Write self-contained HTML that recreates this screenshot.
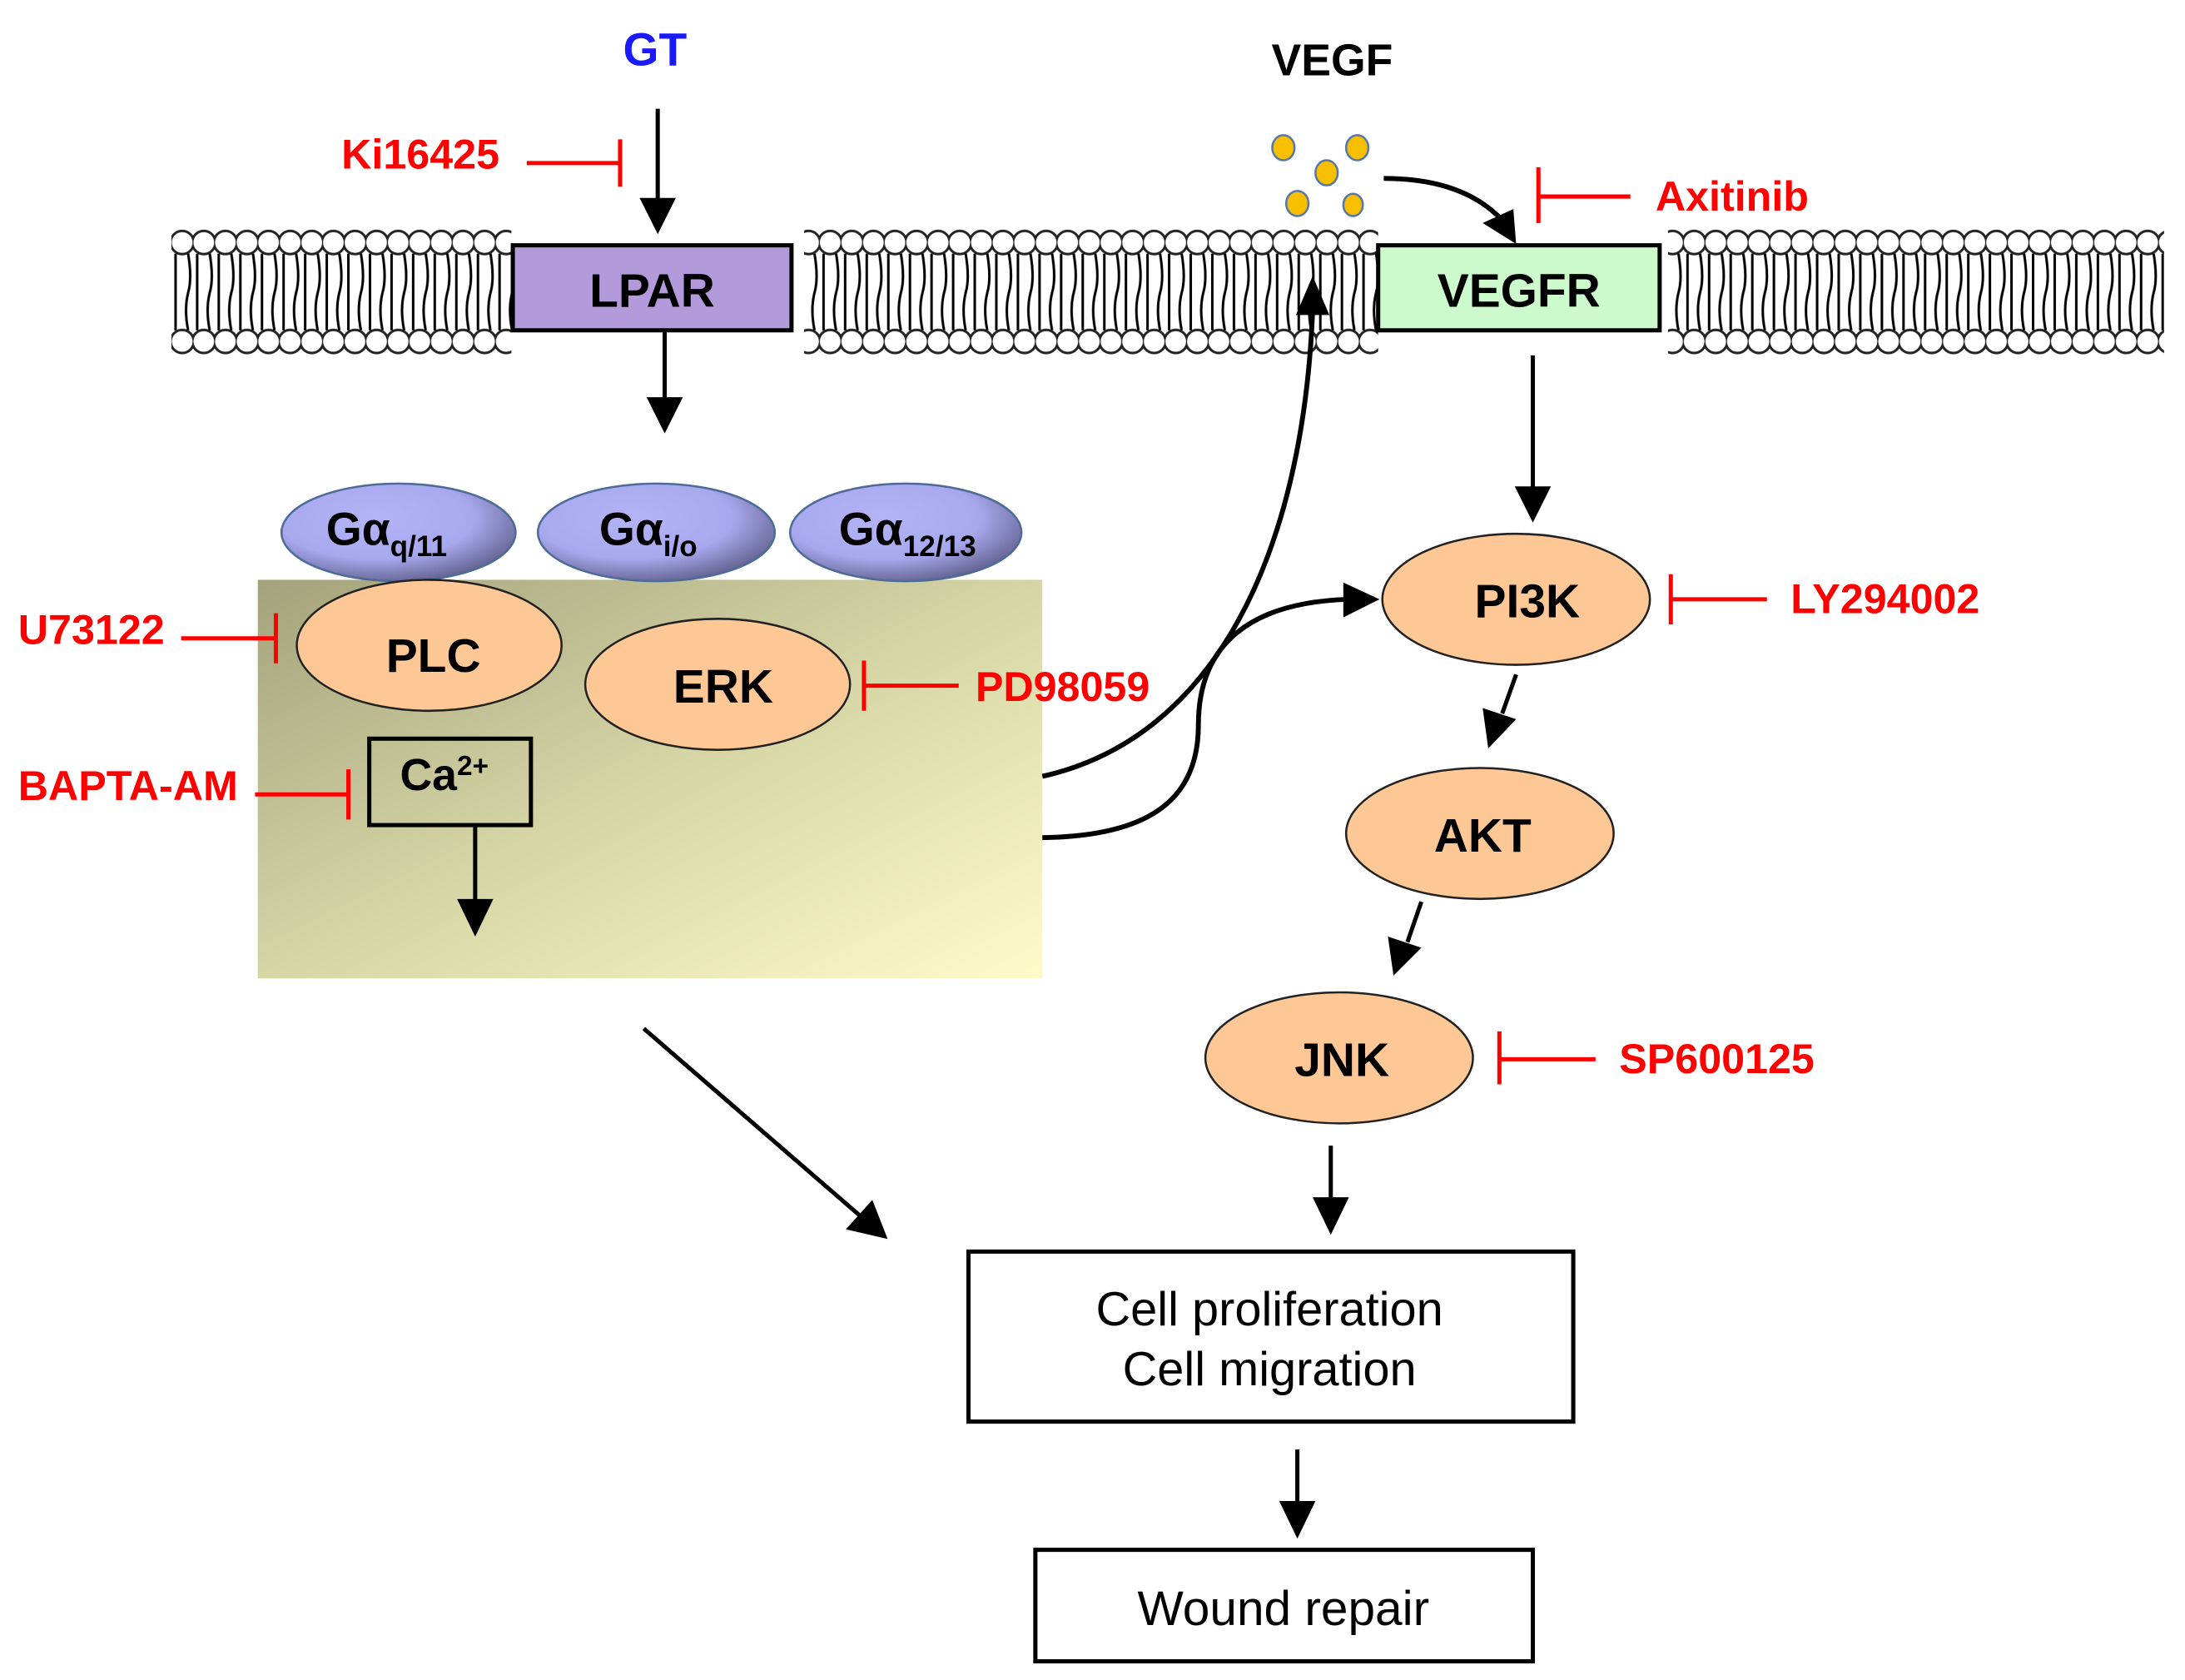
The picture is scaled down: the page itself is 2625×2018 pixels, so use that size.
<!DOCTYPE html>
<html><head><meta charset="utf-8"><style>
html,body{margin:0;padding:0;background:#fff}
svg{display:block}
text{font-family:"Liberation Sans",Arial,sans-serif}
</style></head><body>
<svg width="2625" height="2018" viewBox="0 0 1568 1205.4" preserveAspectRatio="none" xmlns="http://www.w3.org/2000/svg">
<defs>
<pattern id="lip" x="123" y="160" width="15.5" height="100" patternUnits="userSpaceOnUse">
<circle cx="7.75" cy="14" r="8.3" fill="#fff" stroke="#222" stroke-width="1.8"/>
<circle cx="7.75" cy="85" r="8.3" fill="#fff" stroke="#222" stroke-width="1.8"/>
<path d="M3 22 V77 M12 22 Q15 40 12 50 Q9 62 12 77" stroke="#000" stroke-width="1.8" fill="none"/>
</pattern>
<linearGradient id="cyt" x1="0" y1="0" x2="1" y2="1">
<stop offset="0" stop-color="#a3a27c"/><stop offset="0.5" stop-color="#d6d5a6"/><stop offset="1" stop-color="#fdfbc8"/>
</linearGradient>
<radialGradient id="ga" cx="0.4" cy="0.35" r="0.7">
<stop offset="0" stop-color="#b3b3f5"/><stop offset="0.6" stop-color="#a8a8ee"/><stop offset="1" stop-color="#5e5e8a"/>
</radialGradient>
</defs>

<!-- membrane -->
<rect x="123" y="160" width="244" height="100" fill="url(#lip)"/>
<rect x="577" y="160" width="412" height="100" fill="url(#lip)"/>
<rect x="1197" y="160" width="356" height="100" fill="url(#lip)"/>

<rect x="368" y="176" width="200" height="61" fill="#b39bdb" stroke="#000" stroke-width="3"/>
<text x="468" y="220" font-size="34" font-weight="bold" text-anchor="middle">LPAR</text>
<rect x="989" y="176" width="202" height="61" fill="#ccfacc" stroke="#000" stroke-width="3"/>
<text x="1090" y="220" font-size="34" font-weight="bold" text-anchor="middle">VEGFR</text>

<text x="470" y="47" font-size="33" font-weight="bold" fill="#1a1aff" text-anchor="middle">GT</text>
<text x="956" y="54" font-size="32" font-weight="bold" text-anchor="middle">VEGF</text>

<line x1="472" y1="78" x2="472" y2="145" stroke="#000" stroke-width="3"/>
<polygon points="459,142 485,142 472,168" fill="#000"/>
<text x="245" y="121" font-size="30" font-weight="bold" fill="#f00">Ki16425</text>
<line x1="378" y1="117" x2="445" y2="117" stroke="#f00" stroke-width="3"/>
<line x1="445" y1="100" x2="445" y2="134" stroke="#f00" stroke-width="3"/>

<line x1="477" y1="237" x2="477" y2="288" stroke="#000" stroke-width="3"/>
<polygon points="464,285 490,285 477,311" fill="#000"/>

<g fill="#f8bf00" stroke="#5577aa" stroke-width="1.5">
<ellipse cx="921" cy="106" rx="8" ry="9"/><ellipse cx="974" cy="106" rx="8" ry="9"/>
<ellipse cx="952" cy="124" rx="8" ry="9"/><ellipse cx="931" cy="146" rx="8" ry="9"/><ellipse cx="971" cy="147" rx="7" ry="8"/>
</g>
<path d="M993 128 Q1050 128 1078 158" stroke="#000" stroke-width="3.5" fill="none"/>
<polygon points="1064,160 1086,150 1088,175" fill="#000"/>
<line x1="1104" y1="120" x2="1104" y2="160" stroke="#f00" stroke-width="3"/>
<line x1="1104" y1="141" x2="1170" y2="141" stroke="#f00" stroke-width="3"/>
<text x="1188" y="151" font-size="30" font-weight="bold" fill="#f00">Axitinib</text>

<line x1="1100" y1="255" x2="1100" y2="352" stroke="#000" stroke-width="3"/>
<polygon points="1087,349 1113,349 1100,375" fill="#000"/>

<rect x="185" y="416" width="563" height="286" fill="url(#cyt)"/>

<g stroke="#4d6a99" stroke-width="1.5" fill="url(#ga)">
<ellipse cx="286" cy="382" rx="84" ry="35"/>
<ellipse cx="471" cy="382" rx="85" ry="35"/>
<ellipse cx="650" cy="382" rx="83" ry="35"/>
</g>
<text x="234" y="391" font-size="33" font-weight="bold">Gα<tspan font-size="21" dy="8">q/11</tspan></text>
<text x="430" y="391" font-size="33" font-weight="bold">Gα<tspan font-size="21" dy="8">i/o</tspan></text>
<text x="602" y="391" font-size="33" font-weight="bold">Gα<tspan font-size="21" dy="8">12/13</tspan></text>

<g fill="#fdc896" stroke="#222" stroke-width="1.5">
<ellipse cx="308" cy="463" rx="95" ry="47"/>
<ellipse cx="515" cy="491" rx="95" ry="47"/>
</g>
<text x="311" y="482" font-size="34" font-weight="bold" text-anchor="middle">PLC</text>
<text x="519" y="504" font-size="34" font-weight="bold" text-anchor="middle">ERK</text>

<text x="13" y="462" font-size="30" font-weight="bold" fill="#f00">U73122</text>
<line x1="130" y1="458" x2="198" y2="458" stroke="#f00" stroke-width="3"/>
<line x1="198" y1="440" x2="198" y2="476" stroke="#f00" stroke-width="3"/>

<line x1="620" y1="474" x2="620" y2="510" stroke="#f00" stroke-width="3"/>
<line x1="620" y1="492" x2="688" y2="492" stroke="#f00" stroke-width="3"/>
<text x="700" y="503" font-size="30" font-weight="bold" fill="#f00">PD98059</text>

<text x="13" y="574" font-size="30" font-weight="bold" fill="#f00">BAPTA-AM</text>
<line x1="183" y1="570" x2="250" y2="570" stroke="#f00" stroke-width="3"/>
<line x1="250" y1="552" x2="250" y2="588" stroke="#f00" stroke-width="3"/>

<rect x="265" y="530" width="116" height="62" fill="none" stroke="#000" stroke-width="3"/>
<text x="287" y="567" font-size="32" font-weight="bold">Ca<tspan font-size="20" dy="-11">2+</tspan></text>
<line x1="341" y1="592" x2="341" y2="648" stroke="#000" stroke-width="3"/>
<polygon points="328,645 354,645 341,672" fill="#000"/>

<path d="M748 557 C870 530 935 400 942 222" stroke="#000" stroke-width="3.5" fill="none"/>
<polygon points="930,226 954,226 942,198" fill="#000"/>
<path d="M748 601 C830 600 860 570 860 520 C860 460 900 432 968 430" stroke="#000" stroke-width="3.5" fill="none"/>
<polygon points="964,418 964,443 990,430" fill="#000"/>

<g fill="#fdc896" stroke="#222" stroke-width="1.5">
<ellipse cx="1088" cy="430" rx="96" ry="47"/>
<ellipse cx="1062" cy="598" rx="96" ry="47"/>
<ellipse cx="961" cy="759" rx="96" ry="47"/>
</g>
<text x="1096" y="443" font-size="34" font-weight="bold" text-anchor="middle">PI3K</text>
<text x="1064" y="611" font-size="34" font-weight="bold" text-anchor="middle">AKT</text>
<text x="963" y="772" font-size="34" font-weight="bold" text-anchor="middle">JNK</text>

<line x1="1199" y1="412" x2="1199" y2="448" stroke="#f00" stroke-width="3"/>
<line x1="1199" y1="430" x2="1268" y2="430" stroke="#f00" stroke-width="3"/>
<text x="1285" y="440" font-size="30" font-weight="bold" fill="#f00">LY294002</text>

<line x1="1076" y1="740" x2="1076" y2="778" stroke="#f00" stroke-width="3"/>
<line x1="1076" y1="760" x2="1145" y2="760" stroke="#f00" stroke-width="3"/>
<text x="1162" y="770" font-size="30" font-weight="bold" fill="#f00">SP600125</text>

<line x1="1088" y1="484" x2="1078" y2="512" stroke="#000" stroke-width="3"/>
<polygon points="1064,508 1088,516 1068,537" fill="#000"/>
<line x1="1020" y1="647" x2="1010" y2="676" stroke="#000" stroke-width="3"/>
<polygon points="996,672 1020,680 1000,700" fill="#000"/>

<line x1="955" y1="822" x2="955" y2="862" stroke="#000" stroke-width="3"/>
<polygon points="942,859 968,859 955,886" fill="#000"/>

<line x1="462" y1="738" x2="618" y2="873" stroke="#000" stroke-width="3"/>
<polygon points="607,882 626,861 637,889" fill="#000"/>

<rect x="695" y="898" width="434" height="122" fill="#fff" stroke="#000" stroke-width="3"/>
<text x="911" y="951" font-size="34.5" text-anchor="middle">Cell proliferation</text>
<text x="911" y="994" font-size="34.5" text-anchor="middle">Cell migration</text>

<line x1="931" y1="1040" x2="931" y2="1080" stroke="#000" stroke-width="3"/>
<polygon points="918,1077 944,1077 931,1104" fill="#000"/>

<rect x="743" y="1112" width="357" height="80" fill="#fff" stroke="#000" stroke-width="3"/>
<text x="921" y="1166" font-size="35" text-anchor="middle">Wound repair</text>
</svg>
</body></html>
